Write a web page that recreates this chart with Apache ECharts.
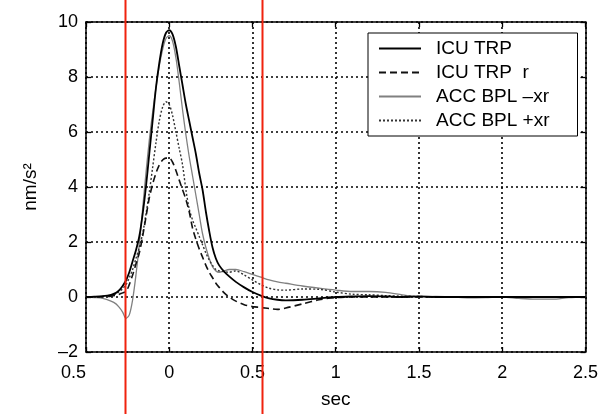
<!DOCTYPE html>
<html>
<head>
<meta charset="utf-8">
<script src="https://cdn.jsdelivr.net/npm/echarts@6/dist/echarts.min.js"></script>
<style>html,body{margin:0;padding:0;background:#fff;}#c{width:601px;height:414px;}</style>
</head>
<body>
<div id="c"></div>
<script>
// time axis (sec)
const t = [-0.5,-0.45,-0.4,-0.35,-0.32,-0.3,-0.28,-0.26,-0.24,-0.22,-0.2,-0.18,-0.16,-0.14,-0.12,-0.1,-0.08,-0.06,-0.04,-0.02,0,0.02,0.04,0.06,0.08,0.1,0.12,0.14,0.16,0.18,0.2,0.22,0.24,0.26,0.28,0.3,0.33,0.36,0.4,0.45,0.5,0.55,0.6,0.65,0.7,0.8,0.9,1.0,1.1,1.2,1.3,1.4,1.5,1.6,1.7,1.8,1.9,2.0,2.1,2.2,2.3,2.4,2.5];
// ICU TRP (solid)
const icuTrp = [0,0.01,0.03,0.08,0.15,0.25,0.4,0.6,0.9,1.3,1.7,2.2,3.0,4.0,5.2,6.4,7.6,8.5,9.2,9.6,9.7,9.55,9.1,8.4,7.7,7.0,6.4,5.8,5.2,4.5,3.9,3.1,2.4,1.8,1.4,1.15,0.92,0.75,0.55,0.35,0.18,0.05,-0.05,-0.1,-0.12,-0.1,-0.05,0,0.02,0.03,0.02,0,0.02,0,0,0,0,0,0,0,0,0,0];
// ICU TRP r (dashed)
const icuTrpR = [0,0,0.01,0.03,0.06,0.1,0.15,0.2,0.45,0.8,1.2,1.6,2.2,2.9,3.6,4.1,4.5,4.8,4.98,5.05,5.05,4.9,4.6,4.25,3.9,3.55,3.1,2.5,2.1,1.75,1.45,1.15,0.9,0.7,0.5,0.35,0.15,0.0,-0.15,-0.28,-0.35,-0.38,-0.42,-0.45,-0.4,-0.25,-0.1,-0.02,0,0,0,0,0,0,0,0,0,0,0,0,0,0,0];
// ACC BPL -xr (grey solid)
const accMinus = [0,-0.02,-0.05,-0.15,-0.25,-0.38,-0.55,-0.78,-0.65,-0.1,0.8,1.9,3.2,4.5,5.7,6.7,7.6,8.4,9.0,9.4,9.5,9.3,8.7,7.8,6.8,5.9,5.1,4.4,3.7,3.0,2.3,1.8,1.4,1.1,0.95,0.9,0.95,1.0,1.0,0.92,0.82,0.72,0.62,0.55,0.5,0.4,0.32,0.25,0.2,0.2,0.17,0.08,0.0,0.02,0.0,-0.03,-0.02,0,-0.05,-0.08,-0.08,-0.02,0];
// ACC BPL +xr (dotted)
const accPlus = [0,0,0.02,0.06,0.12,0.2,0.3,0.45,0.7,1.0,1.4,1.8,2.3,3.0,3.8,4.7,5.6,6.4,6.9,7.1,7.0,6.6,6.0,5.4,4.8,3.9,3.2,2.8,2.5,2.2,1.9,1.6,1.35,1.15,1.0,0.95,0.92,0.9,0.95,0.8,0.62,0.45,0.32,0.26,0.25,0.29,0.28,0.18,0.1,0.08,0.05,0.03,0.02,0,0,0,0,0,0,0,0,0,0];
const seriesNames = ['ICU TRP', 'ICU TRP  r', 'ACC BPL \u2013xr', 'ACC BPL +xr'];
const xRange = [-0.5, 2.5, 0.5];
const yRange = [-2, 10, 2];
const redMarks = [-0.263, 0.556];

const FONT = 'Liberation Sans';
const chart = echarts.init(document.getElementById('c'), null, {renderer: 'canvas'});
const pairs = arr => t.map((x, i) => [x, arr[i]]);
const fmtNum = v => (v < 0 ? '\u2013' + Math.abs(v) : String(v));
const gridDot = {show: true, lineStyle: {color: '#000', width: 1.6, type: [2, 3]}};
const tick = {inside: true, length: 5, lineStyle: {color: '#000', width: 1.3}};
const frame = {show: true, onZero: false, lineStyle: {color: '#000', width: 1.5}};

chart.setOption({
  animation: false,
  backgroundColor: '#fff',
  grid: {left: 86, right: 13, top: 22, bottom: 60},
  legend: {
    left: 368, top: 33, orient: 'vertical',
    itemWidth: 42, itemHeight: 14, itemGap: 5,
    padding: [6, 28, 6, 10],
    borderColor: '#000', borderWidth: 1, backgroundColor: '#fff',
    itemStyle: {opacity: 0, borderWidth: 0},
    textStyle: {fontSize: 19, fontFamily: FONT, color: '#000', padding: [0, 0, 0, 10]},
    data: seriesNames
  },
  xAxis: [{
    type: 'value', min: xRange[0], max: xRange[1], interval: xRange[2],
    name: 'sec', nameLocation: 'middle', nameGap: 38,
    nameTextStyle: {fontSize: 19, fontFamily: FONT, color: '#000'},
    axisLine: frame, axisTick: tick,
    axisLabel: {fontSize: 18, fontFamily: FONT, color: '#000', margin: 12, alignMinLabel: 'right',
      formatter: v => (v < 0 ? String(Math.abs(v)) : String(v))},
    splitLine: gridDot
  }, {
    type: 'value', position: 'top', min: xRange[0], max: xRange[1], interval: xRange[2],
    axisLine: frame, axisTick: tick,
    axisLabel: {show: false}, splitLine: {show: false}
  }],
  yAxis: [{
    type: 'value', min: yRange[0], max: yRange[1], interval: yRange[2],
    name: 'nm/s\u00b2', nameLocation: 'middle', nameGap: 46, nameRotate: 90,
    nameTextStyle: {fontSize: 19, fontFamily: FONT, color: '#000'},
    axisLine: frame, axisTick: tick,
    axisLabel: {fontSize: 18, fontFamily: FONT, color: '#000', margin: 8, formatter: fmtNum},
    splitLine: gridDot
  }, {
    type: 'value', position: 'right', min: yRange[0], max: yRange[1], interval: yRange[2],
    axisLine: frame, axisTick: Object.assign({show: true}, tick),
    axisLabel: {show: false}, splitLine: {show: false}
  }],
  series: [
    {name: seriesNames[2], type: 'line', data: pairs(accMinus), symbol: 'none', smooth: 0.3, z: 2,
      lineStyle: {color: '#808080', width: 1.3, type: 'solid'}, itemStyle: {color: '#808080'}},
    {name: seriesNames[3], type: 'line', data: pairs(accPlus), symbol: 'none', smooth: 0.3, z: 3,
      lineStyle: {color: '#333', width: 1.4, type: [2, 2]}, itemStyle: {color: '#333'}},
    {name: seriesNames[1], type: 'line', data: pairs(icuTrpR), symbol: 'none', smooth: 0.3, z: 4,
      lineStyle: {color: '#111', width: 1.6, type: [7, 4]}, itemStyle: {color: '#111'}},
    {name: seriesNames[0], type: 'line', data: pairs(icuTrp), symbol: 'none', smooth: 0.3, z: 5,
      lineStyle: {color: '#000', width: 1.8, type: 'solid'}, itemStyle: {color: '#000'}}
  ]
});

const h = chart.getHeight();
chart.setOption({
  graphic: redMarks.map(v => {
    const px = Math.round(chart.convertToPixel({xAxisIndex: 0}, v)) + 0.5;
    return {type: 'line', z: 100, silent: true,
      shape: {x1: px, y1: 0, x2: px, y2: h},
      style: {stroke: '#f0220e', lineWidth: 2}};
  })
});
</script>
</body>
</html>
